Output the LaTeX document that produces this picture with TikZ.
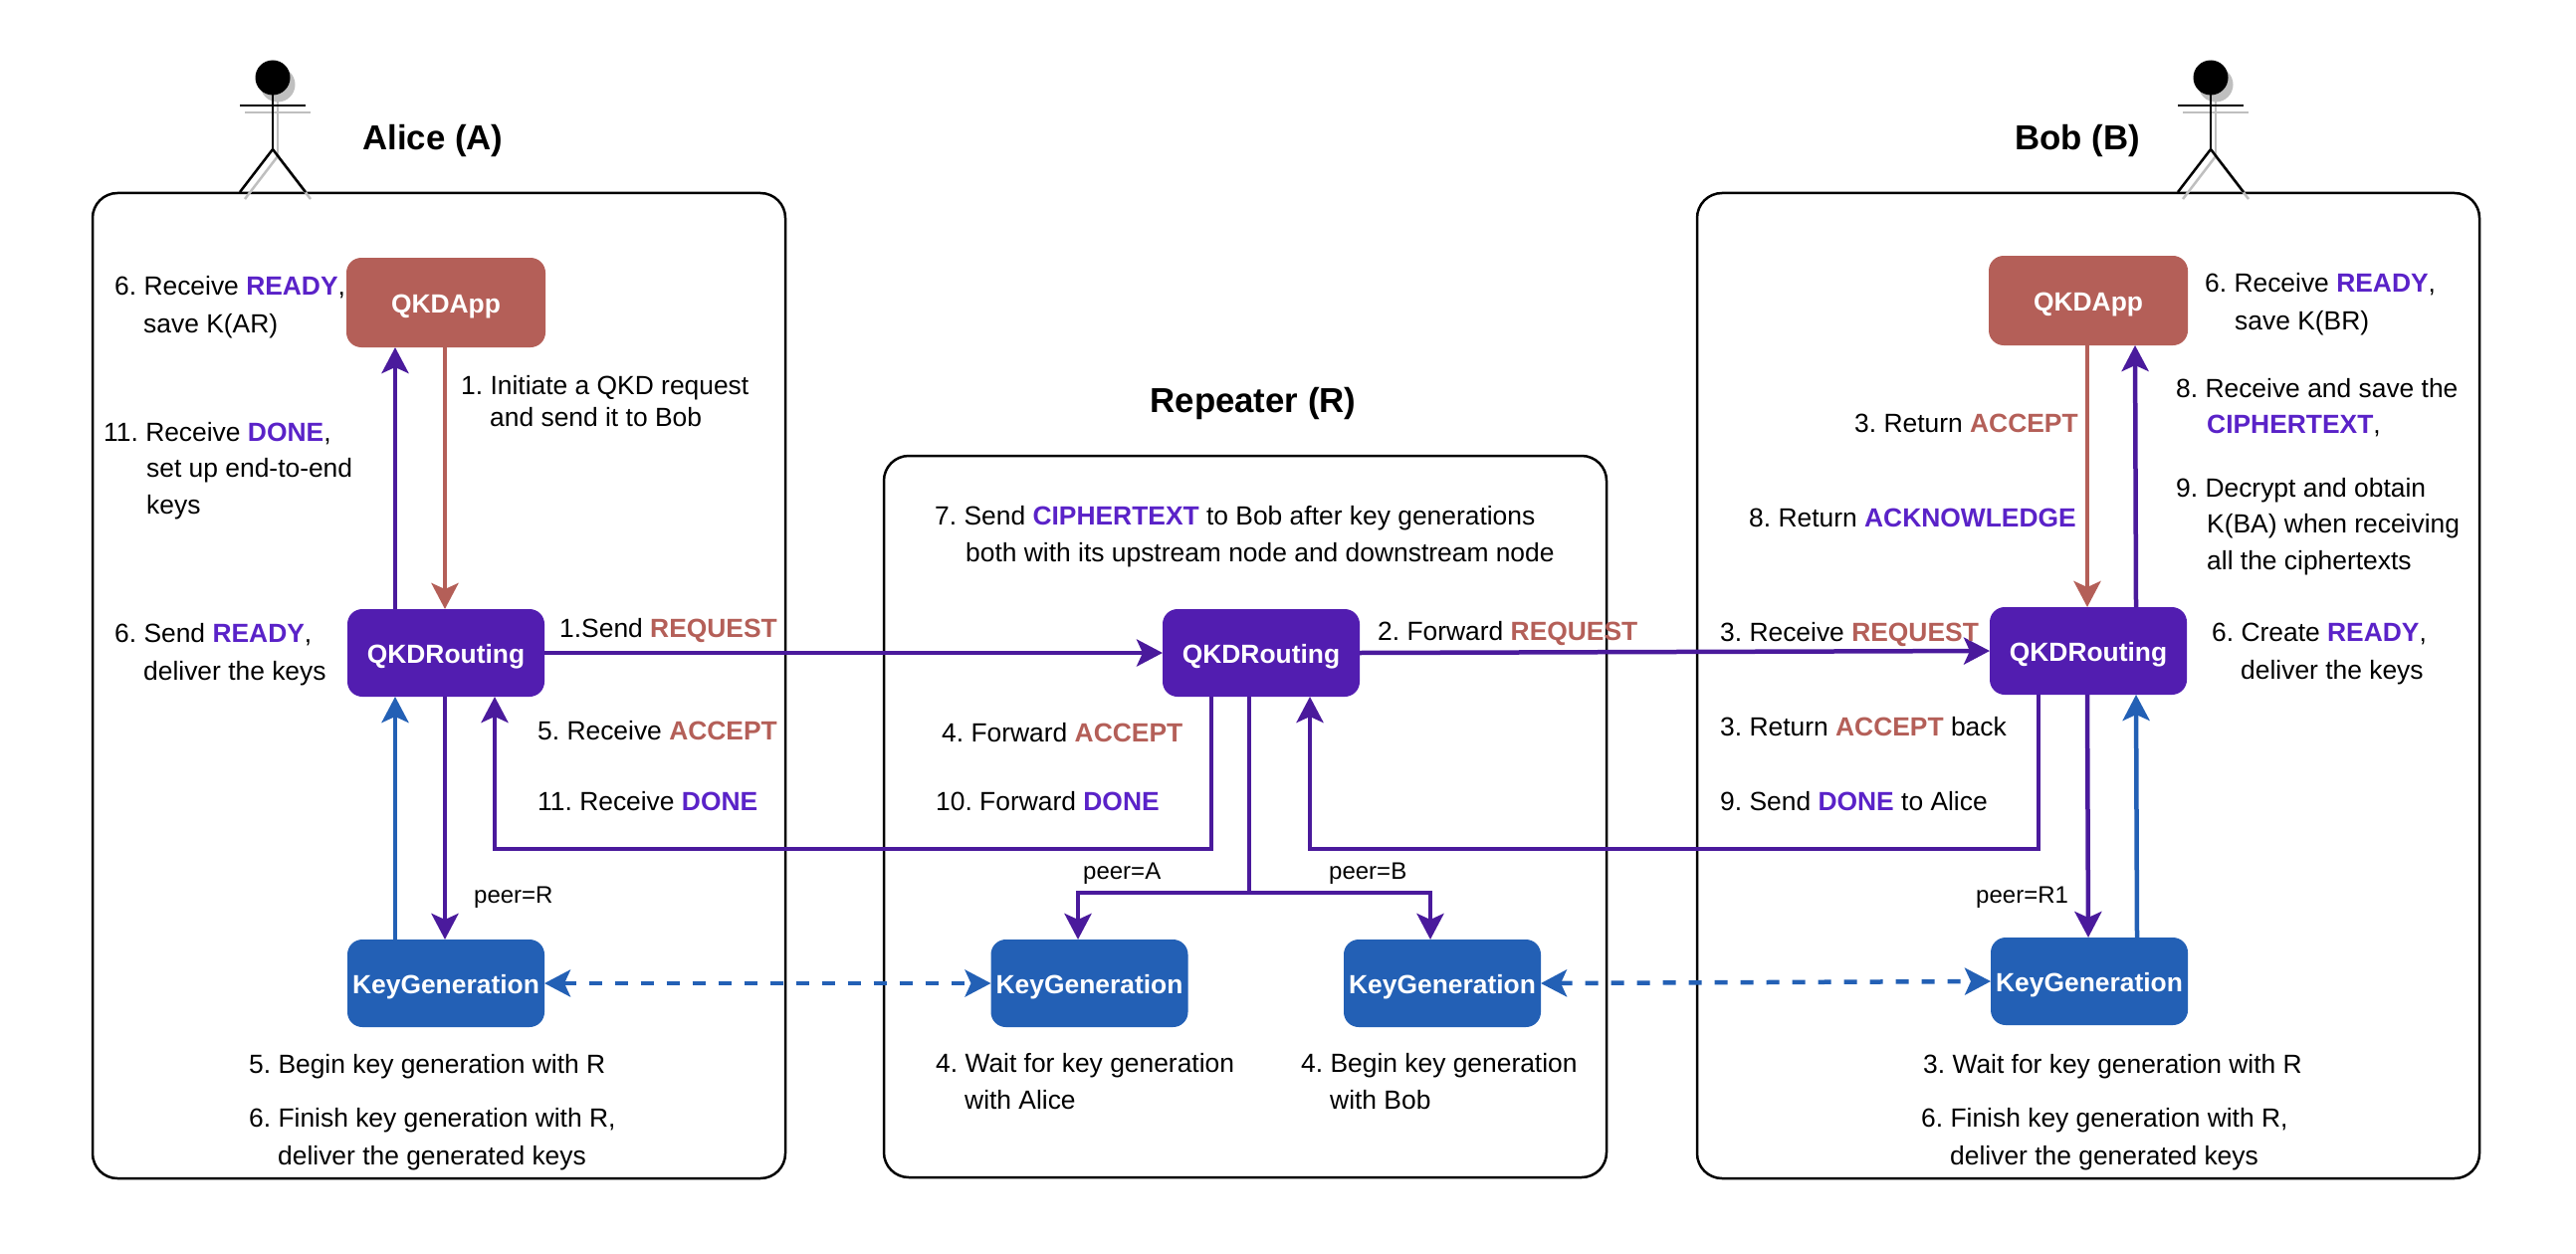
\documentclass[tikz,border=0pt]{standalone}
\usepackage{fontspec}
\setmainfont{Liberation Sans}
\usetikzlibrary{arrows.meta,positioning}
\definecolor{qpurple}{HTML}{521DB0}
\definecolor{qline}{HTML}{4A1A9C}
\definecolor{qtext}{HTML}{5A22C8}
\definecolor{qred}{HTML}{B45F58}
\definecolor{qblue}{HTML}{2360B5}
\newcommand{\pk}[1]{\textcolor{qtext}{\textbf{#1}}}
\newcommand{\rd}[1]{\textcolor{qred}{\textbf{#1}}}
\newcommand{\ind}{\hspace*{29pt}}
\frenchspacing
\tikzstyle{group} = [
  rectangle, draw, rounded corners=25pt, line width=2.5pt, outer sep=0pt
]
\tikzstyle{block} = [
  rectangle, rounded corners=15pt, text=white, font=\fontsize{26.4}{32}\selectfont\bfseries,
  minimum width=198pt, minimum height=88pt, inner sep=0pt, outer sep=0pt,
  text height=20pt, text depth=0pt
]
\tikzstyle{appbox} = [block, fill=qred, minimum width=200pt, minimum height=90pt]
\tikzstyle{routebox} = [block, fill=qpurple]
\tikzstyle{keybox} = [block, fill=qblue]
\tikzstyle{note} = [
  anchor=north west, align=left, inner sep=0pt, font=\fontsize{26.4}{32}\selectfont
]
\tikzstyle{peer} = [note, font=\fontsize{24}{30}\selectfont]
\tikzstyle{heading} = [inner sep=0pt, font=\fontsize{34.8}{42}\selectfont\bfseries]
\tikzstyle{flow} = [
  draw=qline, line width=4.5pt, -{Stealth[length=26pt,width=27pt,inset=6pt]}
]
\tikzstyle{redflow} = [flow, draw=qred]
\tikzstyle{blueflow} = [flow, draw=qblue]
\tikzstyle{keylink} = [
  draw=qblue, line width=4.5pt, dash pattern=on 13pt off 13pt,
  {Stealth[length=26pt,width=27pt,inset=6pt]}-{Stealth[length=26pt,width=27pt,inset=6pt]}
]
\tikzset{
  actor/.pic={
    \fill (0,0) circle (17.5pt);
    \draw[line width=2.5pt] (0,17) -- (0,72);
    \draw[line width=2.5pt] (-33,28) -- (33,28);
    \draw[line width=2.5pt] (-33,115) -- (0,72) -- (33,115);
  }
}

\begin{document}
\begin{tikzpicture}[x=1pt,y=-1pt]
    \useasboundingbox (0,0) rectangle (2588,1260);

    \node[group, minimum width=696pt, minimum height=990pt] (boxA) at (441,689) {};
    \node[group, minimum width=726pt, minimum height=725pt] (boxR) at (1251,820.5) {};
    \node[group, minimum width=786pt, minimum height=990pt] (boxB) at (2098,689) {};

    % actors, shadow first
    \foreach \ax in {274,2221} {
      \pic[draw=black!25, fill=black!25] at (\ax+5,85) {actor};
      \pic at (\ax,78) {actor};
    }

    \node[heading] (titleA) at (435,142) {Alice (A)};
    \node[heading] (titleR) at (1259,406) {Repeater (R)};
    \node[heading] (titleB) at (2087,142) {Bob (B)};

    \node[routebox] (routeA) at (448,656) {QKDRouting};
    \node[appbox, above=263pt of routeA] (appA) {QKDApp};
    \node[keybox, below=244pt of routeA] (keyA) {KeyGeneration};

    \node[routebox, right=621pt of routeA] (routeR) {QKDRouting};
    \node[keybox, below=244pt of routeR, xshift=-172.5pt] (keyR1) {KeyGeneration};
    \node[keybox, below=244pt of routeR, xshift=182pt] (keyR2) {KeyGeneration};

    \node[routebox, right=633pt of routeR, yshift=2pt] (routeB) {QKDRouting};
    \node[appbox, above=263pt of routeB] (appB) {QKDApp};
    \node[keybox, below=244pt of routeB, xshift=1pt] (keyB) {KeyGeneration};

    \coordinate (retbusA) at (757,853);
    \coordinate (retbusB) at (1700,853);
    \coordinate (peerbus) at (1255,897);

    \draw[flow] ([xshift=-51pt] routeA.north) -- ([xshift=-51pt] appA.south);
    \draw[redflow] ([xshift=-1pt] appA.south) -- ([xshift=-1pt] routeA.north);
    \draw[blueflow] ([xshift=-51pt] keyA.north) -- ([xshift=-51pt] routeA.south);
    \draw[flow] ([xshift=-1pt] routeA.south) -- ([xshift=-1pt] keyA.north);

    \draw[flow] (routeA.east) -- (routeR.west);
    \draw[flow] (routeR.east) -- (routeB.west);

    \draw[flow] ([xshift=-50pt] routeR.south) |- (retbusA) -| ([xshift=49pt] routeA.south);
    \draw[flow] ([xshift=-50pt] routeB.south) |- (retbusB) -| ([xshift=49pt] routeR.south);
    \draw[flow] ([xshift=-12pt] routeR.south) |- (peerbus) -| ([xshift=-11.5pt] keyR1.north);
    \draw[flow] ([xshift=-12pt] routeR.south) |- (peerbus) -| ([xshift=-12pt] keyR2.north);

    \draw[redflow] ([xshift=-1pt] appB.south) -- ([xshift=-1pt] routeB.north);
    \draw[flow] ([xshift=48pt] routeB.north) -- ([xshift=47pt] appB.south);
    \draw[flow] ([xshift=-1pt] routeB.south) -- ([xshift=-1pt] keyB.north);
    \draw[blueflow] ([xshift=48pt] keyB.north) -- ([xshift=48pt] routeB.south);

    \draw[keylink] (keyA.east) -- (keyR1.west);
    \draw[keylink] (keyR2.east) -- (keyB.west);

    % Alice
    \node[note] (noteA1) at (115,277) {6. Receive \pk{READY},\\[6pt]\ind save K(AR)};
    \node[note] (noteA2) at (463,377) {1. Initiate a QKD request\\\ind and send it to Bob};
    \node[note] (noteA3) at (104,424) {11. Receive \pk{DONE},\\[4pt]\hspace*{43pt}set up end-to-end\\[5pt]\hspace*{43pt}keys};
    \node[note] (noteA4) at (115,626) {6. Send \pk{READY},\\[6pt]\ind deliver the keys};
    \node[note] (noteA5) at (562,621) {1.Send \rd{REQUEST}};
    \node[note] (noteA6) at (540,724) {5. Receive \rd{ACCEPT}};
    \node[note] (noteA7) at (540,795) {11. Receive \pk{DONE}};
    \node[peer] (peerA) at (476,891) {peer=R};
    \node[note] (noteA8) at (250,1059) {5. Begin key generation with R};
    \node[note] (noteA9) at (250,1113) {6. Finish key generation with R,\\[6pt]\ind deliver the generated keys};

    % Repeater
    \node[note] (noteR1) at (939,508) {7. Send \pk{CIPHERTEXT} to Bob after key generations\\[5pt]\hspace*{31pt}both with its upstream node and downstream node};
    \node[note] (noteR2) at (1384,624) {2. Forward \rd{REQUEST}};
    \node[note] (noteR3) at (946,726) {4. Forward \rd{ACCEPT}};
    \node[note] (noteR4) at (940,795) {10. Forward \pk{DONE}};
    \node[peer] (peerR1) at (1088,867) {peer=A};
    \node[peer] (peerR2) at (1335,867) {peer=B};
    \node[note] (noteR5) at (940,1058) {4. Wait for key generation\\[5pt]\ind with Alice};
    \node[note] (noteR6) at (1307,1058) {4. Begin key generation\\[5pt]\ind with Bob};

    % Bob
    \node[note] (noteB1) at (2215,274) {6. Receive \pk{READY},\\[6pt]\hspace*{30pt}save K(BR)};
    \node[note] (noteB2) at (1863,416) {3. Return \rd{ACCEPT}};
    \node[note] (noteB3) at (1757,511) {8. Return \pk{ACKNOWLEDGE}};
    \node[note] (noteB4) at (2186,380) {8. Receive and save the\\[4pt]\hspace*{31pt}\pk{CIPHERTEXT},};
    \node[note] (noteB5) at (2186,480) {9. Decrypt and obtain\\[4pt]\hspace*{31pt}K(BA) when receiving\\[5pt]\hspace*{31pt}all the ciphertexts};
    \node[note] (noteB6) at (1728,625) {3. Receive \rd{REQUEST}};
    \node[note] (noteB7) at (2222,626) {6. Create \pk{READY},\\[6pt]\ind deliver the keys};
    \node[note] (noteB8) at (1728,720) {3. Return \rd{ACCEPT} back};
    \node[note] (noteB9) at (1728,795) {9. Send \pk{DONE} to Alice};
    \node[peer] (peerB) at (1985,891) {peer=R1};
    \node[note] (noteB10) at (1932,1059) {3. Wait for key generation with R};
    \node[note] (noteB11) at (1930,1113) {6. Finish key generation with R,\\[6pt]\ind deliver the generated keys};
  \end{tikzpicture}
\end{document}
